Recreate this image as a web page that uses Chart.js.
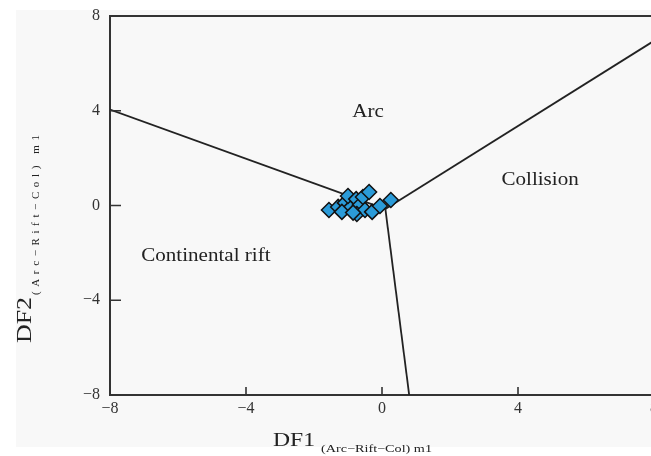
<!DOCTYPE html>
<html>
<head>
<meta charset="utf-8">
<script src="https://cdn.jsdelivr.net/npm/chart.js@4"></script>
<style>
html,body{margin:0;padding:0;background:#ffffff;overflow:hidden;width:651px;height:456px;}
#wrap{position:absolute;left:0;top:0;width:664px;height:456px;}
</style>
</head>
<body>
<div id="wrap"><canvas id="c" width="664" height="456"></canvas></div>
<script>
// Axis ticks
const xTicks = [-8, -4, 0, 4, 8];
const yTicks = [-8, -4, 0, 4, 8];

// Sample points (DF1, DF2)
const sampleDF1 = [-1.56, -1.29, -1.09, -0.94, -1.00, -0.76, -0.65, -0.56, -0.38, -0.74, -0.50, -0.29, -0.06, 0.26, -1.18, -0.85];
const sampleDF2 = [-0.19, -0.06, 0.11, -0.11, 0.40, 0.27, 0.02, 0.36, 0.57, -0.36, -0.19, -0.27, -0.02, 0.23, -0.27, -0.30];

// Field boundaries
const boundaryLeftX = [-8, 0.1];
const boundaryLeftY = [4.05, -0.15];
const boundaryRightX = [0.1, 8];
const boundaryRightY = [-0.15, 6.95];
const boundaryBottomX = [0.1, 0.8];
const boundaryBottomY = [-0.15, -8];

// Field labels
const fieldNames = ["Arc", "Collision", "Continental rift"];
const fieldX = [-0.41, 4.65, -5.18];
const fieldY = [3.95, 1.08, -2.13];

const xTitle = "DF1";
const yTitle = "DF2";
const titleSub = "(Arc\u2212Rift\u2212Col) m1";

const toPts = (xs, ys) => xs.map((x, i) => ({x: x, y: ys[i]}));
const minus = v => String(v).replace('-', '\u2212');

const lineStyle = {showLine: true, pointRadius: 0, borderColor: '#222', borderWidth: 1.8, fill: false, tension: 0};

const SERIF = '"Liberation Serif", "DejaVu Serif", serif';

// draw text horizontally stretched (left-aligned at x) to a target width
function stretchedText(ctx, text, font, targetW, x, y) {
  ctx.save();
  ctx.font = font;
  ctx.textAlign = 'left';
  const w = ctx.measureText(text).width;
  ctx.translate(x, y);
  ctx.scale(targetW / w, 1);
  ctx.fillText(text, 0, 0);
  ctx.restore();
}
// draw text with letter spacing to a target width
function spacedText(ctx, text, font, targetW, x, y) {
  ctx.save();
  ctx.font = font;
  ctx.textAlign = 'left';
  ctx.letterSpacing = '0px';
  const w = ctx.measureText(text).width;
  const ls = Math.max(0, (targetW - w) / Math.max(1, text.length - 1));
  ctx.letterSpacing = ls + 'px';
  ctx.fillText(text, x, y);
  ctx.restore();
}

const decor = {
  id: 'decor',
  beforeDraw(chart) {
    const ctx = chart.ctx;
    ctx.save();
    ctx.fillStyle = '#ffffff';
    ctx.fillRect(0, 0, chart.width, chart.height);
    ctx.fillStyle = '#f8f8f8';
    ctx.fillRect(16, 10, chart.width - 16, 437);
    ctx.restore();
  },
  afterDraw(chart) {
    const ctx = chart.ctx;
    const a = chart.chartArea;
    const xs = chart.scales.x, ys = chart.scales.y;
    ctx.save();
    ctx.strokeStyle = '#333';
    ctx.lineWidth = 2;
    ctx.beginPath();
    ctx.moveTo(a.left - 1, a.top);
    ctx.lineTo(a.right, a.top);
    ctx.lineTo(a.right, a.bottom);
    ctx.stroke();
    ctx.lineWidth = 1.6;
    ctx.beginPath();
    xTicks.forEach(v => {
      const p = xs.getPixelForValue(v);
      ctx.moveTo(p, a.bottom);
      ctx.lineTo(p, a.bottom - 8);
    });
    yTicks.forEach(v => {
      const p = ys.getPixelForValue(v);
      ctx.moveTo(a.left, p);
      ctx.lineTo(a.left + 11, p);
    });
    ctx.stroke();

    // field labels (stretched ~1.17 horizontally, centred)
    ctx.fillStyle = '#222';
    ctx.textBaseline = 'middle';
    const fs = 1.17;
    fieldNames.forEach((n, i) => {
      ctx.save();
      ctx.font = '18px ' + SERIF;
      ctx.textAlign = 'center';
      ctx.translate(xs.getPixelForValue(fieldX[i]), ys.getPixelForValue(fieldY[i]));
      ctx.scale(fs, 1);
      ctx.fillText(n, 0, 0);
      ctx.restore();
    });

    // x axis title
    ctx.textBaseline = 'alphabetic';
    stretchedText(ctx, xTitle, '19px ' + SERIF, 42, 273, 446);
    stretchedText(ctx, titleSub, '11px ' + SERIF, 111, 321, 452);

    // y axis title (rotated)
    ctx.translate(31, 0);
    ctx.rotate(-Math.PI / 2);
    stretchedText(ctx, yTitle, '20px ' + SERIF, 46, -343, 0);
    spacedText(ctx, titleSub, '11px ' + SERIF, 160, -295, 8);
    ctx.restore();
  }
};

new Chart(document.getElementById('c'), {
  type: 'scatter',
  data: {
    datasets: [
      {
        data: toPts(sampleDF1, sampleDF2),
        pointStyle: 'rectRot',
        pointRadius: 7.5,
        pointHoverRadius: 7.5,
        backgroundColor: '#2b9bd8',
        borderColor: '#111',
        borderWidth: 1.5,
        showLine: false
      },
      Object.assign({data: toPts(boundaryLeftX, boundaryLeftY)}, lineStyle),
      Object.assign({data: toPts(boundaryRightX, boundaryRightY)}, lineStyle),
      Object.assign({data: toPts(boundaryBottomX, boundaryBottomY)}, lineStyle)
    ]
  },
  options: {
    responsive: false,
    devicePixelRatio: 1,
    animation: false,
    events: [],
    layout: {padding: {top: 16, right: 6, left: 0, bottom: 0}},
    plugins: {legend: {display: false}, tooltip: {enabled: false}},
    scales: {
      x: {
        type: 'linear', min: -8, max: 8,
        afterFit: s => { s.height = 61; },
        afterBuildTicks: s => { s.ticks = xTicks.map(v => ({value: v})); },
        grid: {display: false, drawTicks: false},
        border: {display: true, color: '#333', width: 2},
        ticks: {callback: v => minus(v), color: '#333', font: {family: SERIF, size: 16, lineHeight: 1}, padding: 6, maxRotation: 0, autoSkip: false}
      },
      y: {
        type: 'linear', min: -8, max: 8,
        afterFit: s => { s.width = 110; s.paddingTop = 0; s.paddingBottom = 0; },
        afterBuildTicks: s => { s.ticks = yTicks.map(v => ({value: v})); },
        grid: {display: false, drawTicks: false},
        border: {display: true, color: '#333', width: 2},
        ticks: {callback: v => minus(v), color: '#333', font: {family: SERIF, size: 16, lineHeight: 1}, padding: 10, autoSkip: false}
      }
    }
  },
  plugins: [decor]
});
</script>
</body>
</html>
